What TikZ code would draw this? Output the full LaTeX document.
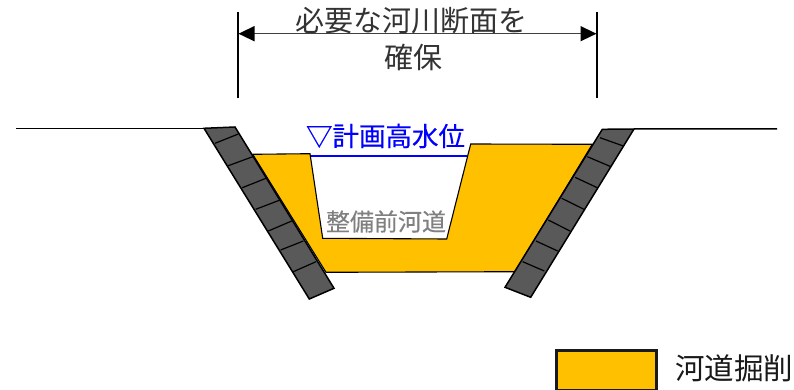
\documentclass[tikz,border=0pt]{standalone}
\usepackage{fontspec}
\setmainfont{Noto Sans CJK JP}
\newfontfamily\semibold[FakeBold=0.35]{Noto Sans CJK JP}
\usetikzlibrary{arrows.meta}
\definecolor{cutorange}{HTML}{FFC000}
\definecolor{blockgrey}{HTML}{595959}
\definecolor{labelgrey}{HTML}{808080}
\tikzset{
  cut/.style={fill=cutorange,draw=black,line width=1.1pt,line join=miter},
  block/.style={fill=blockgrey,draw=black,line width=1.5pt,line join=miter},
  joint/.style={draw=black,line width=1.2pt},
  ground/.style={draw=black,line width=1.5pt},
  dimline/.style={draw=black,line width=1.6pt},
  dimarrow/.style={draw=black!75,line width=1.5pt,{Stealth[length=16pt,width=15pt,inset=0pt,black]}-{Stealth[length=16pt,width=15pt,inset=0pt,black]}},
  txt/.style={inner sep=0pt,anchor=center}
}
\begin{document}
\begin{tikzpicture}[x=1pt,y=-1pt]
\useasboundingbox (0,0) rectangle (794,390);
% excavation
\draw[cut] (252.7,154.3) -- (310,153.7) -- (322.7,238.3) -- (446.7,239) -- (470.7,144) -- (592.3,144.3) -- (515,271.7) -- (326,272.3) -- cycle;
% water level
\coordinate (wl) at (311,156); \coordinate (wr) at (467,156);
\draw[draw=blue,line width=1.8pt] (wl) -- (wr);
% ground
\coordinate (gl0) at (16,128.3); \coordinate (gl1) at (204,128.3);
\coordinate (gr0) at (634,128.8); \coordinate (gr1) at (777,129);
\draw[ground] (gl0) -- (gl1);
\draw[ground] (gr0) -- (gr1);
% left revetment
\draw[block] (204,128.3) -- (235,127) -- (334,288.3) -- (309.3,299) -- cycle;
\foreach \a/\b/\c/\d in {215/143.3/238.3/134, 228.3/165.7/252.7/156.7, 242.3/187.7/266/178.3, 255.7/209.3/279.3/200.3, 268.3/231/291.7/221, 280.7/250/303.3/241, 293.3/271.7/316/261.7}
  \draw[joint] (\a,\b) -- (\c,\d);
% right revetment
\draw[block] (602.3,129.3) -- (634,129) -- (530.7,297.3) -- (505,287.3) -- cycle;
\foreach \a/\b/\c/\d in {600/137.7/623.3/146, 587.3/156.7/611/166.7, 575/177.3/597.3/187.7, 561.7/198.3/584/209.3, 548.3/220/570/231, 536/241/557.7/251, 522.7/261.7/544.3/271}
  \draw[joint] (\a,\b) -- (\c,\d);
% dimension
\coordinate (dl0) at (238,12); \coordinate (dl1) at (238,98);
\coordinate (dr0) at (597,12); \coordinate (dr1) at (597,98);
\coordinate (al) at (238.5,33.7); \coordinate (ar) at (596.5,33.7);
\draw[dimline] (dl0) -- (dl1);
\draw[dimline] (dr0) -- (dr1);
\draw[dimarrow] (al) -- (ar);
% labels
\node[txt,font=\fontsize{29}{29}\selectfont,text=black!80] (t1) at (411.5,20.5) {必要な河川断面を};
\node[txt,font=\fontsize{29}{29}\selectfont,text=black!80] (t2) at (413,57) {確保};
\node[txt,font=\semibold\fontsize{26.5}{26.5}\selectfont,text=blue] (t3) at (385.5,136) {▽計画高水位};
\node[txt,font=\semibold\fontsize{24}{24}\selectfont,text=labelgrey] (t4) at (386,221.5) {整備前河道};
% legend
\node[draw=black!90,line width=3pt,fill=cutorange,minimum width=100pt,minimum height=39.5pt,inner sep=0pt,anchor=north west] (lg) at (555,349) {};
\node[txt,font=\fontsize{29.5}{29.5}\selectfont,text=black!90] (t5) at (734,368) {河道掘削};
\end{tikzpicture}
\end{document}
